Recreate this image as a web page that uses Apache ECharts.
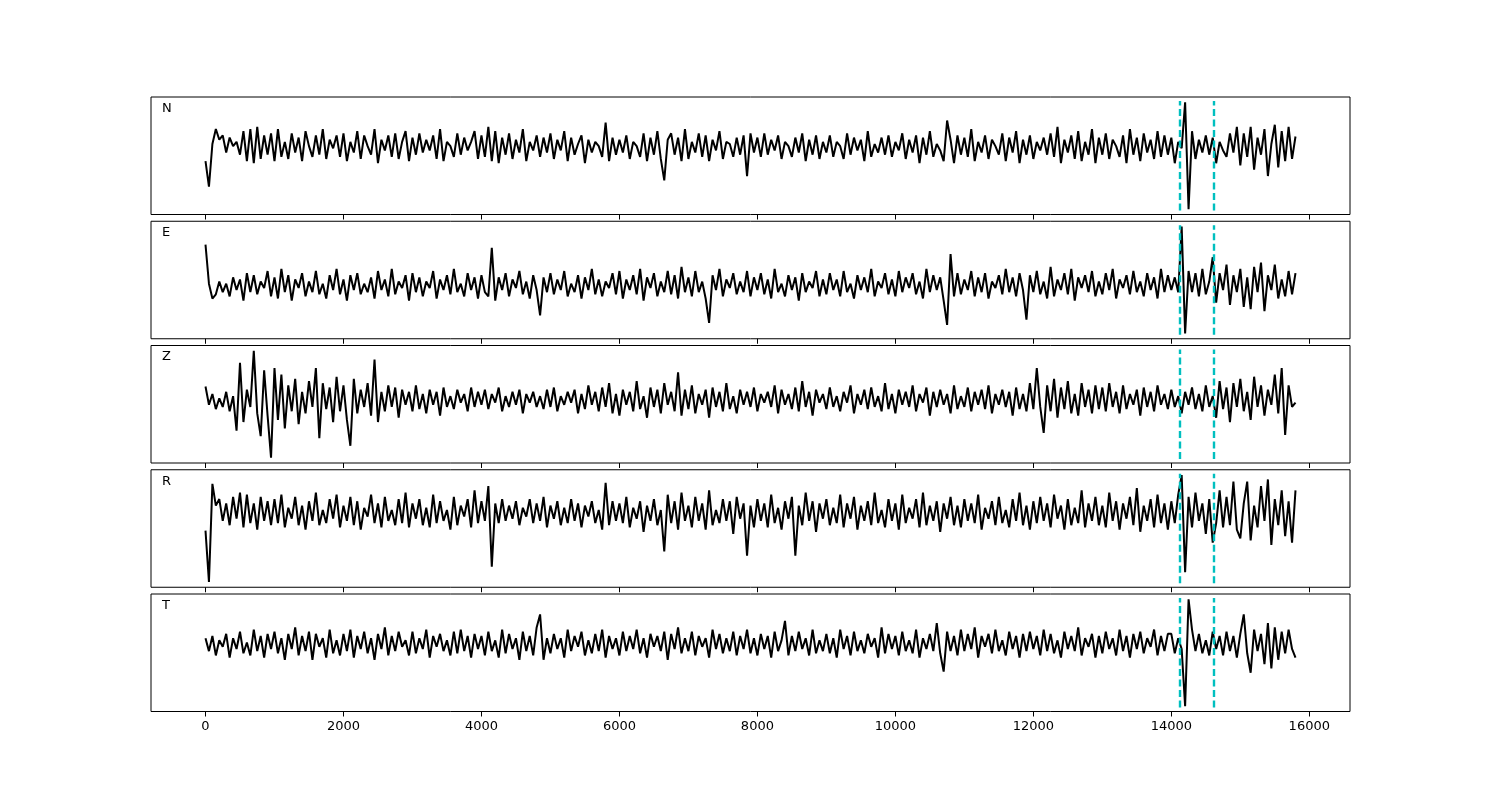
<!DOCTYPE html>
<html><head><meta charset="utf-8">
<script src="https://cdn.jsdelivr.net/npm/echarts@6/dist/echarts.min.js"></script>
<style>html,body{margin:0;padding:0;background:#fff}#c{width:1500px;height:800px}</style>
</head><body><div id="c"></div>
<script>
const sampleStep = 50;
const channels = ['N', 'E', 'Z', 'R', 'T'];
const pickTimes = [14120, 14610];
const tickValues = [0, 2000, 4000, 6000, 8000, 10000, 12000, 14000, 16000];

const traceN = [
 -12,-36,4,18,8,12,-4,10,2,6,-6,16,-12,18,-14,20,-10,12,-6,14,
 -12,18,-8,6,-10,14,-4,10,-12,16,2,-8,12,-6,18,-10,8,0,12,-8,
 14,-12,6,-4,16,-10,12,2,-6,18,-14,8,-2,12,-8,14,-10,6,16,-12,
 10,-6,14,-4,8,-2,12,-10,18,-12,6,2,-8,14,-6,10,-2,6,16,-10,
 12,-8,20,-12,16,-14,10,-6,14,-10,8,-4,18,-12,6,-2,12,-8,10,-4,
 14,-10,8,-2,16,-12,10,-6,4,12,-14,8,-4,6,2,-8,24,-12,10,-6,
 8,-4,12,-10,6,2,-8,14,-12,10,-6,16,-10,-30,8,14,-6,10,-12,18,
 -10,6,-4,14,-8,12,-12,8,-2,16,-10,6,4,-8,10,-6,12,-26,14,-4,
 10,-8,14,-6,8,-2,12,-10,6,2,-8,10,-4,14,-12,8,-6,12,-10,6,
 -4,12,-8,6,2,-10,14,-6,10,-2,8,-12,16,-8,4,-4,10,-6,12,-8,
 6,-2,14,-10,8,-4,12,-14,10,-6,16,-8,4,-2,-12,26,8,-14,12,-6,
 10,-8,18,-12,6,-4,12,-10,8,2,-6,14,-12,10,-4,16,-14,8,-6,12,
 -10,6,-2,10,-6,14,-8,20,-14,8,-4,12,-10,16,-12,6,-6,18,-14,10,
 -6,14,-10,8,2,-8,12,-14,18,-6,10,-12,14,-4,8,-10,16,-8,12,-6,
 10,-14,6,0,43,-57,16,-10,8,-4,12,-6,10,-14,6,-2,-8,14,-4,20,
 -16,14,-8,20,-20,10,-6,18,-26,4,22,-18,16,-12,20,-10,11
];
const traceE = [
 39,2,-12,-8,4,-6,2,-10,8,-4,6,-14,12,-6,10,-8,4,-2,14,-10,
 8,-12,16,-6,10,-14,6,-2,12,-10,4,-6,14,-8,2,-12,10,-4,16,-8,
 6,-14,10,-4,12,-8,2,-6,8,-12,14,-4,6,-10,16,-8,4,-2,10,-14,
 12,-6,8,-10,4,-2,14,-12,6,-4,10,-8,16,-6,2,-10,12,-4,8,-12,
 10,-6,-10,36,-14,8,-4,12,-10,6,-2,14,-8,4,-12,10,-4,-28,8,-6,
 12,-8,6,-4,14,-10,2,-6,10,-12,8,-4,16,-8,6,-10,4,-2,12,-8,
 14,-12,6,-4,10,-8,16,-14,8,-2,12,-10,4,-6,14,-8,10,-12,18,-6,
 8,-10,14,-6,4,-12,-35,10,-4,16,-10,6,-2,12,-8,4,-6,14,-10,8,
 -4,12,-8,6,-12,16,-6,2,-10,10,-4,8,-14,12,-6,4,-2,14,-10,6,
 -8,12,-4,6,-10,14,-6,2,-12,10,-4,8,-6,16,-10,4,-2,12,-8,6,
 -10,14,-6,8,-2,12,-8,4,-12,16,-6,10,-4,8,-14,-37,30,-10,12,-8,
 6,-4,14,-10,8,-6,12,-12,4,-2,10,-8,16,-6,8,-10,12,-4,-32,10,
 -6,14,-8,4,-12,18,-10,6,-4,12,-8,16,-14,8,-2,10,-6,14,-10,4,
 -8,12,-4,16,-12,6,-2,10,-8,14,-6,4,-10,12,-4,8,-12,16,-6,10,
 -4,8,-6,56,-45,14,-6,12,-10,16,-8,4,27,-16,12,-4,20,-18,10,-6,
 16,-20,8,-22,18,-6,22,-24,10,-4,20,-12,6,-10,14,-8,12
];
const traceZ = [
 13,-4,6,-8,2,-6,8,-10,4,-28,35,-20,10,-6,46,-12,-33,28,-14,-53,
 30,-18,24,-26,14,-10,20,-22,8,-12,18,-6,30,-35,16,-8,12,-20,22,-10,
 14,-18,-42,20,-12,10,-6,16,-14,38,-20,8,-10,14,-6,12,-16,10,-4,8,
 -10,14,-8,6,-12,10,-4,8,-14,12,-6,4,-8,10,-2,6,-10,12,-6,8,
 -4,10,-8,6,-2,12,-10,4,-6,8,-4,10,-12,6,-2,8,-6,4,-8,10,
 -6,12,-10,4,-4,8,-2,10,-12,6,-8,14,-4,8,-10,12,-6,16,-12,6,
 -14,10,-4,8,-10,18,-8,4,-16,12,-6,10,-12,16,-4,8,-10,26,-14,10,
 -8,14,-12,6,-4,10,-16,12,-6,8,-10,16,-8,4,-12,10,-4,8,-6,12,
 -10,6,-2,8,-6,14,-12,10,-4,6,-8,12,-10,18,-6,8,-14,10,-2,6,
 -8,12,-6,4,-10,8,-2,14,-12,6,-4,10,-8,12,-6,4,-10,16,-8,6,
 -12,10,-4,8,-6,14,-10,6,-2,12,-14,8,-6,10,-4,6,-12,14,-8,4,
 -6,12,-10,8,-4,10,-8,14,-12,6,-4,10,-6,8,-14,12,-8,6,-10,16,
 -8,30,-6,-30,14,-10,20,-16,12,-8,18,-12,6,-14,16,-6,10,-12,14,-8,
 12,-10,16,-6,8,-12,14,-8,6,-4,10,-14,12,-6,8,-10,14,-4,6,-8,
 10,-6,4,-12,8,-4,12,-8,6,-10,14,-6,4,-16,18,-8,12,-20,16,-6,
 20,-10,8,-18,22,-6,14,-14,10,-4,24,-12,30,-32,14,-6,-2
];
const traceR = [
 -15,-62,28,8,14,-6,10,-10,16,-4,20,-12,18,-8,10,-14,16,-6,12,-10,
 14,-8,18,-12,6,-4,16,-10,8,-14,12,-6,20,-10,4,-8,14,-4,18,-12,
 8,-6,16,-10,12,-14,6,-2,18,-8,10,-12,16,-6,4,-10,14,-8,20,-12,
 10,-4,14,-10,6,-12,18,-8,12,-6,4,-14,16,-10,8,-2,14,-12,22,-8,
 12,-6,26,-48,10,-8,14,-6,8,-4,12,-10,6,-2,14,-8,10,-6,16,-12,
 8,-4,12,-10,6,-8,14,-6,10,-12,8,-2,12,-8,4,-14,29,-10,12,-6,
 10,-8,16,-12,6,-4,12,-16,8,-6,14,-10,4,-34,18,-8,12,-14,20,-6,
 8,-12,16,-6,10,-14,22,-10,4,-8,14,-6,12,-18,16,-4,10,-38,8,-12,
 14,-6,10,-12,18,-8,6,-14,12,-4,16,-38,8,-10,20,-6,12,-16,10,-4,
 14,-10,6,-8,18,-12,10,-4,16,-14,8,-6,12,-10,20,-8,4,-12,14,-6,
 10,-14,18,-8,6,-4,14,-12,20,-10,8,-6,12,-16,10,-4,16,-10,8,-12,
 14,-6,10,-8,18,-14,6,-4,12,-10,16,-8,4,-12,14,-6,20,-10,8,-14,
 12,-8,16,-6,10,-12,18,-4,8,-14,14,-10,6,-8,22,-12,10,-6,16,-10,
 8,-12,20,-6,12,-14,10,-4,16,-10,24,-16,8,-6,14,-12,18,-8,10,-14,
 12,-8,18,36,-53,16,-12,20,-6,10,-18,14,-26,-8,22,-12,16,-10,30,-14,
 -22,10,30,-24,8,-12,26,-6,32,-28,14,-10,22,-20,12,-26,22
];
const traceT = [
 6,-6,8,-10,4,-2,10,-12,6,-4,12,-8,2,-10,14,-6,8,-12,10,-4,
 12,-8,6,-14,10,-4,16,-10,8,-6,12,-14,10,-2,6,-12,14,-8,4,-10,
 10,-6,14,-12,8,-4,12,-8,6,-14,10,-4,16,-10,8,-6,12,-2,4,-10,
 12,-8,6,-4,14,-12,8,-2,10,-6,4,-10,12,-8,14,-6,8,-12,10,-4,
 8,-10,12,-6,4,-12,14,-8,10,-4,6,-14,12,-6,8,-10,16,28,-14,6,
 -8,10,-4,6,-12,14,-6,8,-2,12,-10,4,-8,10,-6,14,-12,8,-4,6,
 -10,12,-6,8,-4,14,-8,6,-12,10,-2,8,-6,12,-14,10,-4,16,-8,6,
 -6,12,-10,8,-2,6,-12,14,-4,10,-8,6,-6,12,-10,8,-4,14,-8,6,
 -10,10,-4,8,-12,12,-6,4,22,-10,8,-6,12,-4,6,-10,14,-8,4,-6,
 10,-8,6,-12,14,-4,8,-10,12,-6,4,-8,10,-2,6,-12,16,-8,10,-4,
 8,-10,12,-6,4,-8,14,-12,6,-4,10,-6,20,-8,-25,12,-6,8,-10,14,
 -6,10,-4,16,-12,8,-2,10,-8,14,-6,4,-10,12,-4,8,-12,10,-6,12,
 -4,8,-10,14,-6,10,-8,4,-12,12,-4,8,-6,16,-10,6,-2,10,-12,8,
 -8,12,-4,6,-10,14,-6,8,-12,10,-4,12,-8,6,-2,14,-10,8,-6,10,
 10,-8,6,-4,-57,42,14,-6,10,-8,4,-10,12,-4,8,-10,12,-6,8,-12,
 10,28,-8,-26,14,-6,10,-18,20,-22,16,-14,12,-8,14,-4,-12
];

const traces = [traceN, traceE, traceZ, traceR, traceT];

const chart = echarts.init(document.getElementById('c'), null, {renderer: 'canvas'});
const gridTop0 = 97, gridStep = 124.25, gridH = 117.5;
const grids = [], xAxes = [], yAxes = [], series = [], graphics = [];
traces.forEach((tr, i) => {
  const top = gridTop0 + i * gridStep;
  grids.push({left: 151, right: 150, top: top, height: gridH, show: true,
    borderColor: '#000', borderWidth: 1, backgroundColor: 'transparent', containLabel: false});
  const last = i === traces.length - 1;
  xAxes.push({type: 'value', gridIndex: i, min: -790, max: 16590,
    axisLine: {show: false, onZero: false},
    axisTick: {show: true, inside: false, length: 5, lineStyle: {color: '#000', width: 1}, customValues: tickValues},
    axisLabel: {show: last, customValues: tickValues, color: '#000', fontFamily: 'DejaVu Sans', fontSize: 13, margin: 9,
      formatter: v => String(v)},
    splitLine: {show: false}});
  const lo = Math.min(...tr), hi = Math.max(...tr), span = hi - lo;
  const yMin = lo - 0.05 * span, yMax = hi + 0.05 * span, full = yMax - yMin;
  yAxes.push({type: 'value', gridIndex: i, min: yMin, max: yMax, show: false, splitLine: {show: false}});
  const y0 = yMin + 0.033 * full, y1 = yMax - 0.033 * full;
  series.push({type: 'line', xAxisIndex: i, yAxisIndex: i,
    data: tr.map((v, k) => [k * sampleStep, v]),
    showSymbol: false, symbol: 'none', sampling: 'none', animation: false,
    lineStyle: {color: '#000', width: 2},
    markLine: {silent: true, symbol: ['none', 'none'], animation: false, label: {show: false},
      lineStyle: {color: '#00bfbf', width: 2.4, type: [7, 3.5]},
      emphasis: {disabled: true},
      data: pickTimes.map(t => [{coord: [t, y0]}, {coord: [t, y1]}])}});
  graphics.push({type: 'text', left: 162, top: top + 5,
    style: {text: channels[i], font: '13px "DejaVu Sans"', fill: '#000'}});
});

chart.setOption({
  animation: false,
  backgroundColor: '#fff',
  grid: grids, xAxis: xAxes, yAxis: yAxes, series: series, graphic: graphics
});
</script>
</body></html>
